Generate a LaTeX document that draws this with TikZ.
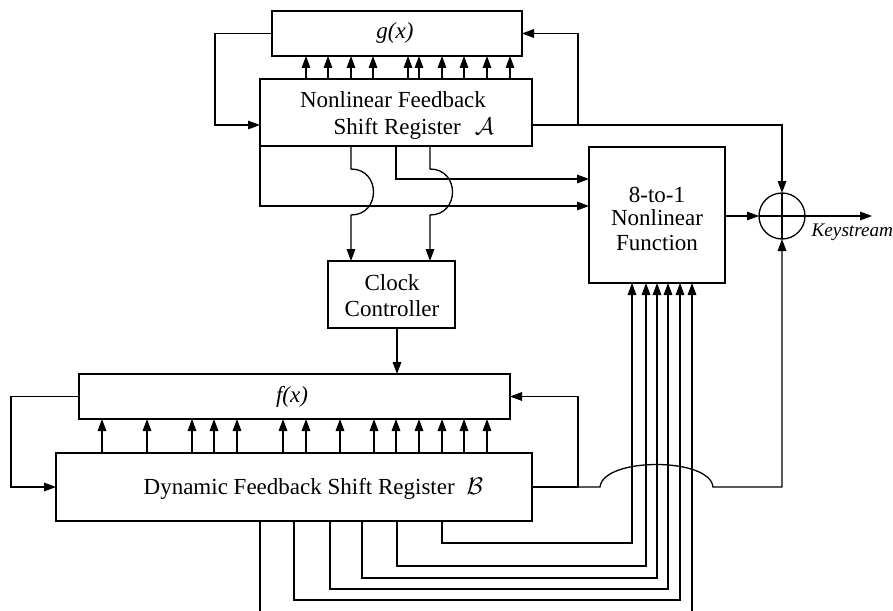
\documentclass[tikz,border=0pt]{standalone}
\usepackage{fontspec}
\setmainfont{Liberation Serif}
\usetikzlibrary{arrows.meta}
\begin{document}
\begin{tikzpicture}[x=0.5pt,y=-0.5pt, line width=0.65pt,
  box/.style={draw, rectangle, inner sep=0pt, outer sep=0pt},
  arr/.style={-{Triangle[length=6pt,width=4.3pt]}},
  lbl/.style={font=\fontsize{11.5}{13}\selectfont, inner sep=0pt},
  ks/.style={font=\fontsize{9.6}{11}\selectfont\itshape, inner sep=0pt}]
\useasboundingbox (0,0) rectangle (893,610);
\clip (0,0) rectangle (893,610);
\fill[white] (0,0) rectangle (893,610);

% boxes
\node[box, minimum width=125pt, minimum height=22.5pt] (gx) at (397,33.5) {};
\node[box, minimum width=136pt, minimum height=33.5pt] (nfsr) at (396,112.5) {};
\node[box, minimum width=68pt, minimum height=68pt] (nlf) at (657,215) {};
\node[box, minimum width=63.5pt, minimum height=33.5pt] (clk) at (391.5,294.5) {};
\node[box, minimum width=215.5pt, minimum height=22.5pt] (fx) at (294.5,396.5) {};
\node[box, minimum width=238pt, minimum height=34pt] (dfsr) at (294,487) {};
\node[draw, circle, minimum size=23pt, inner sep=0pt, outer sep=0pt] (xor) at (782,216) {};
\draw (xor.north) -- (xor.south) (xor.west) -- (xor.east);

% texts
\node[lbl, font=\fontsize{11.5}{13}\selectfont\itshape] (gxt) at (395,33) {g(x)};
\node[lbl, anchor=base] (nf1) at (393,107) {Nonlinear Feedback};
\node[lbl, anchor=base west] (nf2) at (333,134) {Shift Register\hspace{7pt}$\mathcal{A}$};
\node[lbl, anchor=base] (nl1) at (657,202) {8-to-1};
\node[lbl, anchor=base] (nl2) at (657,225) {Nonlinear};
\node[lbl, anchor=base] (nl3) at (657,250) {Function};
\node[lbl, anchor=base] (ck1) at (392,290) {Clock};
\node[lbl, anchor=base] (ck2) at (392,316) {Controller};
\node[lbl, font=\fontsize{11.5}{13}\selectfont\itshape] (fxt) at (292,397) {f(x)};
\node[lbl, anchor=base west] (df) at (143,494) {Dynamic Feedback Shift Register\hspace{6pt}$\mathcal{B}$};
\coordinate (kend) at (872,216);
\node[ks, anchor=base west] (kst) at (811,236) {Keystream};

% NFSR -> g(x)
\foreach \x in {306,328,351,373,408,419,442,464,487,510}
  \draw[arr] (\x,0 |- nfsr.north) -- (\x,0 |- gx.south);
% g(x) feedback into NFSR
\draw[arr] (gx.west) -| (215,125) -- (nfsr.west |- 0,125);
\draw[arr] (nfsr.east |- 0,125) -| (xor.north);
\draw[arr] (578,125) |- (gx.east);

% NFSR -> 8-to-1 and clock
\draw[arr] (nfsr.south west) |- (nlf.west |- 0,206);
\draw[arr] (396,0 |- nfsr.south) |- (nlf.west |- 0,179);
\foreach \x in {351,430}
  \draw[arr] (\x,0 |- nfsr.south) -- (\x,169) .. controls (\x+30,169) and (\x+30,215) .. (\x,215) -- (\x,0 |- clk.north);

% clock -> f(x)
\draw[arr] (397,0 |- clk.south) -- (397,0 |- fx.north);

% DFSR -> f(x)
\foreach \x in {102,147,192,214,237,283,306,340,374,396,419,442,464,487}
  \draw[arr] (\x,0 |- dfsr.north) -- (\x,0 |- fx.south);
\draw[arr] (fx.west) -| (11,0 |- dfsr.west) -- (dfsr.west);
\draw[arr] (dfsr.east) -| (578,0 |- fx.east) -- (fx.east);
\draw[arr] (578,0 |- dfsr.east) -- (600,0 |- dfsr.east) .. controls (603,457) and (710,457) .. (713,487) -| (xor.south);

% 8-to-1 -> xor -> keystream
\draw[arr] (nlf.east |- xor.west) -- (xor.west);
\draw[arr] (xor.east) -- (kend);

% DFSR -> 8-to-1 bottom inputs
\foreach \a/\y/\b in {442/543/632, 397/566/646, 362/578/657, 330/589/668, 294/600/680, 260/616/692}
  \draw[arr] (\a,0 |- dfsr.south) |- (\b,\y) -- (\b,0 |- nlf.south);
\end{tikzpicture}
\end{document}
